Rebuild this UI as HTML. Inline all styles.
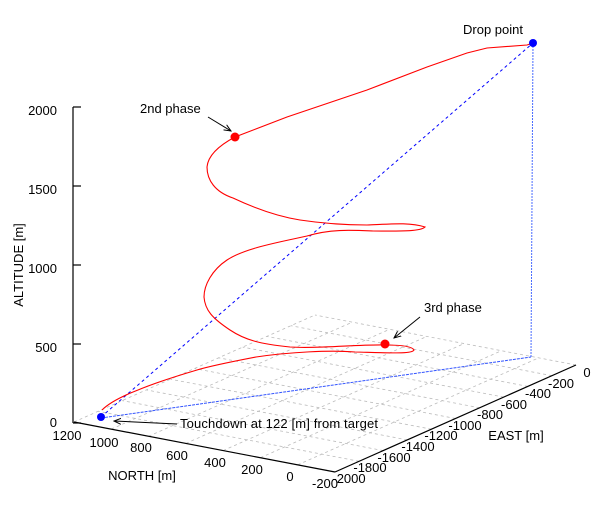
<!DOCTYPE html>
<html><head><meta charset="utf-8"><style>
body{margin:0;background:#fff}
svg{display:block;font-family:"Liberation Sans",Arial,sans-serif;font-size:13px}
</style></head><body>
<svg width="611" height="517" viewBox="0 0 611 517" xmlns="http://www.w3.org/2000/svg">
<defs><marker id="ah" markerWidth="8" markerHeight="8" refX="7" refY="4" orient="auto"><path d="M0,1 L7,4 L0,7" fill="none" stroke="#000" stroke-width="1"/></marker></defs>
<g stroke="#bbb" stroke-width="0.8" stroke-dasharray="3,3" fill="none" id="grid"></g>
<g stroke="#000" stroke-width="1.2" fill="none">
<line x1="73" y1="107" x2="73" y2="423"/>
<line x1="73" y1="107" x2="81" y2="107"/><line x1="73" y1="186" x2="81" y2="186"/><line x1="73" y1="265" x2="81" y2="265"/><line x1="73" y1="344" x2="81" y2="344"/><line x1="73" y1="423" x2="81" y2="423"/>
<line x1="74" y1="422" x2="335" y2="472"/>
<line x1="335" y1="472" x2="576" y2="365"/>
</g>
<g text-anchor="end" fill="#000">
<text x="57" y="115">2000</text><text x="57" y="194">1500</text><text x="57" y="273">1000</text><text x="57" y="352">500</text><text x="57" y="427">0</text>
</g>
<g text-anchor="middle" fill="#000">
<text x="67" y="440">1200</text><text x="104" y="447">1000</text><text x="141" y="452">800</text><text x="177" y="460">600</text><text x="215" y="467">400</text><text x="252" y="474">200</text><text x="290" y="481">0</text><text x="325" y="488">-200</text>
<text x="349" y="483">-2000</text><text x="370" y="472">-1800</text><text x="394" y="462">-1600</text><text x="418" y="451">-1400</text><text x="441" y="440">-1200</text><text x="465" y="430">-1000</text><text x="490" y="419">-800</text><text x="514" y="409">-600</text><text x="538" y="398">-400</text><text x="561" y="388">-200</text><text x="587" y="377">0</text>
<text x="142" y="480">NORTH [m]</text><text x="516" y="440">EAST [m]</text>
</g>
<text transform="translate(23,265) rotate(-90)" text-anchor="middle">ALTITUDE [m]</text>
<g stroke="#00f" fill="none" stroke-width="1">
<line x1="101" y1="417" x2="533" y2="43" stroke-dasharray="3,3"/>
<line x1="533" y1="43" x2="531" y2="357" stroke="#4a6cff" stroke-dasharray="2,1"/>
<line x1="101" y1="418" x2="531" y2="357" stroke="#3355ff" stroke-dasharray="3,1"/>
</g>
<path fill="none" stroke="#f00" stroke-width="1.1" d="M533,43 L527,45 L487,48 L467,53 L427,67 L367,90 L287,117 L235,137 C218,146 208,156 207,167 C207,180 215,192 233,198 C250,206 275,216 300,220 C320,223 345,225 367,225 C390,224 410,222 425,227 C420,232 395,231 373,231 C350,230 330,229 307,236 C280,242 245,248 227,260 C212,270 204,285 204,297 C205,310 212,318 230,330 C245,340 260,344 290,347 C320,349 360,344 386,345 C400,345 412,346 414,350 C412,354 394,353 355,352 C330,350 290,352 256,357 C230,362 210,366 197,370 C170,378 150,385 138,390 C120,397 108,404 102,410"/>
<circle cx="235" cy="137" r="4.5" fill="#f00"/>
<circle cx="385" cy="344" r="4.5" fill="#f00"/>
<circle cx="533" cy="43" r="4" fill="#00f"/>
<circle cx="101" cy="417" r="4" fill="#00f"/>
<g stroke="#000" stroke-width="1" fill="none">
<line x1="208" y1="117" x2="231" y2="131" marker-end="url(#ah)"/>
<line x1="420" y1="317" x2="394" y2="338" marker-end="url(#ah)"/>
<line x1="177" y1="424" x2="114" y2="421" marker-end="url(#ah)"/>
</g>
<text x="140" y="113">2nd phase</text>
<text x="463" y="34">Drop point</text>
<text x="424" y="312">3rd phase</text>
<text x="180" y="428" textLength="198">Touchdown at 122 [m] from target</text>
<script>
var g=document.getElementById('grid'),ns='http://www.w3.org/2000/svg';
var L=[74,422],B=[335,472],R=[576,365];
function ln(a,b){var l=document.createElementNS(ns,'line');l.setAttribute('x1',a[0]);l.setAttribute('y1',a[1]);l.setAttribute('x2',b[0]);l.setAttribute('y2',b[1]);g.appendChild(l);}
var e=[R[0]-B[0],R[1]-B[1]],n=[L[0]-B[0],L[1]-B[1]];
for(var i=0;i<=10;i++){var p=[B[0]+e[0]*i/10,B[1]+e[1]*i/10];ln(p,[p[0]+n[0],p[1]+n[1]]);}
for(var j=0;j<=7;j++){var q=[B[0]+n[0]*j/7,B[1]+n[1]*j/7];ln(q,[q[0]+e[0],q[1]+e[1]]);}
</script>
</svg>
</body></html>
